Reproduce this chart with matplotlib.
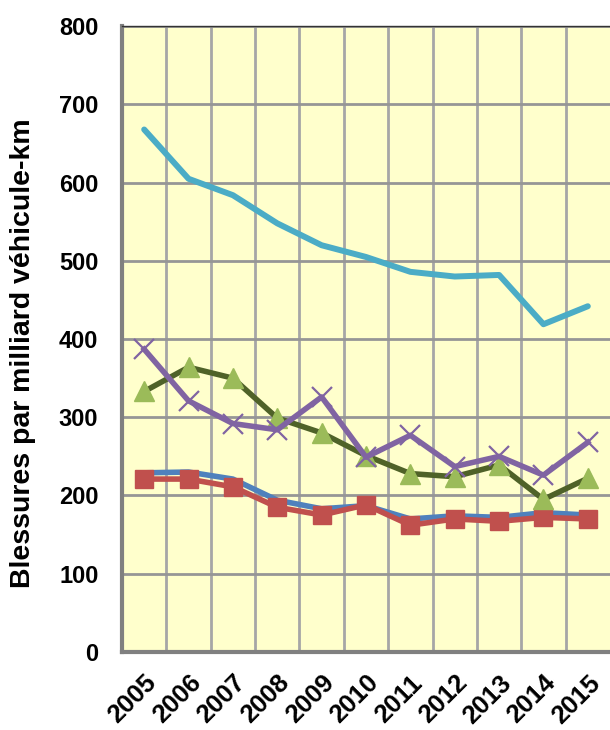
import numpy as np
import matplotlib.pyplot as plt
from matplotlib.ticker import FixedLocator
from matplotlib.transforms import ScaledTranslation

years = ['2005', '2006', '2007', '2008', '2009', '2010',
         '2011', '2012', '2013', '2014', '2015']
cyan_vals = [668, 605, 584, 548, 520, 505, 486, 480, 482, 419, 442]
blue_vals = [229, 230, 221, 194, 183, 187, 170, 174, 172, 178, 175]
red_vals = [221, 221, 211, 185, 175, 188, 162, 170, 167, 172, 170]
green_vals = [333, 364, 350, 299, 280, 251, 228, 224, 239, 195, 222]
purple_vals = [387, 321, 292, 284, 326, 249, 277, 237, 250, 226, 268]

plt.rcParams['font.family'] = ['Liberation Sans', 'DejaVu Sans']

fig = plt.figure(figsize=(6.1, 7.3), dpi=100)
ax = fig.add_axes([0.2, 0.107, 0.8, 0.857])
ax.set_facecolor('#ffffcc')

x = np.arange(len(years))

ax.plot(x, cyan_vals, color='#4bacc6', lw=4.3, solid_capstyle='round', zorder=3)
ax.plot(x, blue_vals, color='#4f81bd', lw=4, zorder=3)
ax.plot(x, red_vals, color='#c0504d', lw=4, marker='s', ms=13,
        mfc='#c0504d', mec='#c0504d', zorder=4)
ax.plot(x, green_vals, color='#4f6228', lw=4, marker='^', ms=15,
        mfc='#9bbb59', mec='#9bbb59', zorder=4)
ax.plot(x, purple_vals, color='#8064a2', lw=4, marker='x', ms=14,
        mew=1.6, zorder=5)

ax.set_xlim(-0.5, 10.5)
ax.set_ylim(0, 800)
ax.set_yticks(range(0, 801, 100))
ax.set_xticks(x)
ax.set_xticklabels(years, rotation=45, ha='right', rotation_mode='anchor',
                   fontsize=18.5, fontweight='bold')
# Excel-style placement: labels sit a little left of the category centre
shift = ScaledTranslation(-0.12, 0, fig.dpi_scale_trans)
for lab in ax.get_xticklabels():
    lab.set_transform(lab.get_transform() + shift)
ax.xaxis.set_minor_locator(FixedLocator(np.arange(0.5, 10.5, 1)))
for lab in ax.get_yticklabels():
    lab.set_fontsize(17)
    lab.set_fontweight('bold')

ax.grid(axis='y', which='major', color='#969696', lw=2, zorder=1)
ax.grid(axis='x', which='minor', color='#a6a6a6', lw=2, zorder=1)
ax.set_axisbelow(True)
ax.tick_params(axis='both', which='both', length=0)
ax.tick_params(axis='y', pad=17)
ax.tick_params(axis='x', pad=13.5)

ax.spines['right'].set_visible(False)
ax.spines['top'].set_color('#333333')
ax.spines['top'].set_linewidth(1)
ax.spines['left'].set_color('#808080')
ax.spines['left'].set_linewidth(3)
ax.spines['bottom'].set_color('#808080')
ax.spines['bottom'].set_linewidth(3)

ax.set_ylabel('Blessures par milliard véhicule-km', fontsize=20.5,
              fontweight='bold')
ax.yaxis.set_label_coords(-0.177, 0.478)

fig.savefig('out.png', dpi=100)
